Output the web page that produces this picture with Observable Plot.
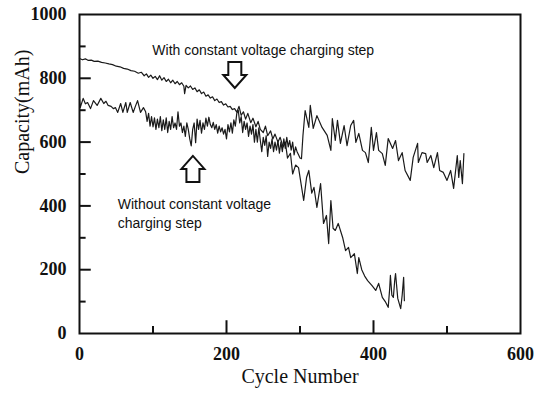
<!DOCTYPE html>
<html>
<head>
<meta charset="utf-8">
<script src="https://cdn.jsdelivr.net/npm/d3@7"></script>
<script src="https://cdn.jsdelivr.net/npm/@observablehq/plot@0.6"></script>
<style>
  html, body { margin: 0; padding: 0; background: #fff; }
</style>
</head>
<body>
<div id="chart"></div>
<script>
// Series "With constant voltage charging step" (smooth start, later collapse)
const withCycles = [0,4,8,12,16,20,25,30,35,40,45,50,55,60,65,70,75,80,84,88,91,94,97,100,103,106,109,112,115,118,121,124,127,130,133,136,139,142,143,145,148,151,154,157,160,163,166,169,172,175,178,181,184,187,190,193,196,199,202,205,208,211,214,217,220,223,226,229,233,236,240,243,246,250,253,256,260,263,266,270,273,277,280,283,287,290,294,298,305,309,312,316,319,323,328,332,336,339,342,345,348,352,358,362,366,369,374,378,380,384,388,392,398,403,407,412,416,420,422,423,425,427,429,430,433,437,439,441,442];
const withCap    = [862,858,861,856,857,853,854,850,848,845,843,838,836,831,829,824,822,816,819,808,814,803,810,800,806,796,808,794,802,790,797,786,794,783,790,780,786,775,752,778,770,776,765,770,758,764,752,757,744,748,738,742,730,735,724,727,716,720,710,712,702,705,694,712,684,695,672,690,661,675,648,665,640,630,650,620,635,610,625,600,615,585,600,550,565,500,528,520,417,490,511,440,458,395,470,345,370,282,417,330,323,345,301,260,270,238,250,188,238,200,180,166,150,135,157,113,100,82,140,182,120,113,170,188,110,78,120,176,103];

// Series "Without constant voltage charging step" (noisy, recovery near cycle 305)
const withoutCycles = [0,1,5,8,11,15,19,24,29,33,36,39,43,46,49,52,56,59,63,65,69,73,76,79,83,87,90,92,94,96,98,100,102,104,106,108,110,112,114,116,118,120,122,124,126,128,130,132,134,136,138,140,142,144,146,148,150,152,154,156,158,160,162,164,166,168,170,172,174,176,178,180,182,184,186,188,190,192,194,196,198,200,202,204,206,208,210,212,214,216,218,220,222,224,226,228,230,232,234,236,238,240,242,244,246,248,250,252,254,256,258,260,262,264,266,268,270,272,274,276,278,280,282,284,286,288,290,292,294,296,298,300,302,304,307,312,314,318,323,330,337,342,344,348,351,355,360,364,369,373,376,380,385,389,393,397,400,404,407,412,416,420,426,430,434,439,443,450,454,460,461,466,471,473,478,482,487,490,495,500,505,509,514,516,518,521,523];
const withoutCap    = [735,708,737,720,724,705,730,715,737,721,728,715,712,705,708,693,721,693,724,693,724,693,712,730,693,708,695,665,690,650,680,648,676,640,672,645,680,636,670,640,676,630,665,640,680,645,660,640,695,650,660,630,650,618,660,640,610,588,640,660,598,672,640,668,628,660,640,675,650,678,655,645,662,640,655,628,650,632,645,625,640,610,655,632,660,628,670,650,690,700,660,680,630,665,640,660,618,650,625,655,600,640,600,645,605,570,615,590,620,555,600,580,610,570,600,575,605,565,600,570,610,580,615,585,605,575,600,560,585,570,560,550,548,620,699,646,715,643,683,646,621,574,674,605,668,596,652,589,652,668,599,627,574,567,536,646,574,630,574,564,527,611,580,605,542,567,511,480,552,596,536,567,564,536,558,520,567,511,505,480,511,455,558,489,542,470,564];

const xTicks = [0, 200, 400, 600];
const yTicks = [0, 200, 400, 600, 800, 1000];
const xMinorTicks = [100, 300, 500];
const xMajorTicks = [200, 400];
const yMinorTicks = [100, 300, 500, 700, 900];
const yMajorTicks = [200, 400, 600, 800];

const labelWith = "With constant voltage charging step";
const labelWithout = "Without constant voltage\ncharging step";
const arrowMarks = [
  {cycle: 212, cap: 768, dir: "down"},
  {cycle: 155, cap: 555, dir: "up"}
];

const withData = withCycles.map((c, i) => ({cycle: c, cap: withCap[i]}));
const withoutData = withoutCycles.map((c, i) => ({cycle: c, cap: withoutCap[i]}));

function arrowsMark(index, scales) {
  const ns = "http://www.w3.org/2000/svg";
  const g = document.createElementNS(ns, "g");
  const sx = scales.x, sy = scales.y;
  for (const a of arrowMarks) {
    const px = sx(a.cycle), py = sy(a.cap);
    const H = 26, hh = 13, hw = 11.5, sw = 6.5;
    const s = a.dir === "down" ? -1 : 1;
    const pts = [
      [px, py],
      [px - hw, py + s * hh],
      [px - sw, py + s * hh],
      [px - sw, py + s * H],
      [px + sw, py + s * H],
      [px + sw, py + s * hh],
      [px + hw, py + s * hh]
    ];
    const p = document.createElementNS(ns, "path");
    p.setAttribute("d", "M" + pts.map(q => q.join(",")).join("L") + "Z");
    p.setAttribute("fill", "white");
    p.setAttribute("stroke", "#111");
    p.setAttribute("stroke-width", "2");
    p.setAttribute("stroke-linejoin", "miter");
    g.appendChild(p);
  }
  return g;
}

const plot = Plot.plot({
  width: 544,
  height: 395,
  marginLeft: 79,
  marginRight: 24,
  marginTop: 14,
  marginBottom: 62,
  style: {fontFamily: "'Liberation Serif', 'Times New Roman', serif", fontSize: "18px", color: "#111", background: "#fff"},
  x: {domain: [0, 600]},
  y: {domain: [0, 1000]},
  marks: [
    Plot.axisX({ticks: xTicks, tickFormat: d => String(d), tickSize: 0, tickPadding: 14, label: null, fontSize: 18, fontWeight: "bold"}),
    Plot.axisY({ticks: yTicks, tickFormat: d => String(d), tickSize: 0, tickPadding: 13, label: null, fontSize: 18, fontWeight: "bold"}),
    Plot.ruleY(yMajorTicks, {x1: 0, x2: 16, stroke: "#111", strokeWidth: 2}),
    Plot.ruleY(yMinorTicks, {x1: 0, x2: 9, stroke: "#111", strokeWidth: 2}),
    Plot.ruleX(xMajorTicks, {y1: 0, y2: 40, stroke: "#111", strokeWidth: 2}),
    Plot.ruleX(xMinorTicks, {y1: 0, y2: 22, stroke: "#111", strokeWidth: 2}),
    Plot.line(withData, {x: "cycle", y: "cap", stroke: "#1a1a1a", strokeWidth: 1.2}),
    Plot.line(withoutData, {x: "cycle", y: "cap", stroke: "#1a1a1a", strokeWidth: 1.2}),
    Plot.frame({stroke: "#111", strokeWidth: 2}),
    Plot.text([labelWith], {x: 250, y: 887, text: d => d, fontFamily: "'Liberation Sans', Arial, sans-serif", fontSize: 14, fill: "#111", textAnchor: "middle"}),
    Plot.text([labelWithout], {x: 52, y: 379, text: d => d, fontFamily: "'Liberation Sans', Arial, sans-serif", fontSize: 14, fill: "#111", textAnchor: "start", lineHeight: 1.3}),
    Plot.text(["Cycle Number"], {frameAnchor: "bottom", dy: 49, text: d => d, fontSize: 20, fill: "#111"}),
    Plot.text(["Capacity(mAh)"], {frameAnchor: "left", dx: -57, rotate: -90, text: d => d, fontSize: 20, fill: "#111"}),
    arrowsMark
  ]
});
document.getElementById("chart").appendChild(plot);
</script>
</body>
</html>
